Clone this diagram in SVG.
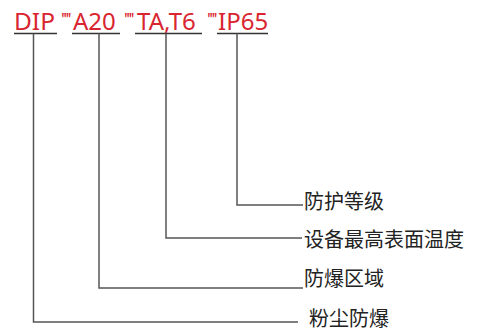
<svg xmlns="http://www.w3.org/2000/svg" width="479" height="331" viewBox="0 0 479 331">
<style>
.code{font-family:"Noto Sans","Open Sans",sans-serif;font-size:24px;fill:#d9252f}
.tick{font-family:"Noto Sans",sans-serif;font-size:17px;fill:#d9252f;letter-spacing:-1.6px}
.ul{stroke:#333;stroke-width:1.5;fill:none}
.conn{stroke:#555;stroke-width:1.5;fill:none}
.lbl{font-family:"Noto Sans CJK SC","Noto Sans",sans-serif;font-size:20px;fill:#222}
</style>
<rect width="479" height="331" fill="#fff"/>
<g id="code">
<text class="code" x="14" y="30" textLength="41" lengthAdjust="spacingAndGlyphs">DIP</text>
<text class="tick" x="61" y="25">''''</text>
<text class="code" x="73" y="30">A20</text>
<text class="tick" x="124" y="25">''''</text>
<text class="code" x="137" y="30">TA,T6</text>
<text class="tick" x="207" y="25">''''</text>
<text class="code" x="218" y="30">IP65</text>
<path class="ul" d="M14,33.5H57M72,33.5H120M135,33.5H202M217,33.5H268"/>
</g>
<g id="connectors">
<path class="conn" d="M33.5,33.5V322H298"/>
<path class="conn" d="M99,33.5V288H303"/>
<path class="conn" d="M166,33.5V238H302"/>
<path class="conn" d="M237,33.5V205H303"/>
</g>
<g id="n1"><text class="lbl" x="304" y="209">防护等级</text></g>
<g id="n2"><text class="lbl" x="304" y="247">设备最高表面温度</text></g>
<g id="n3"><text class="lbl" x="304" y="286">防爆区域</text></g>
<g id="n4"><text class="lbl" x="309" y="326">粉尘防爆</text></g>
</svg>
